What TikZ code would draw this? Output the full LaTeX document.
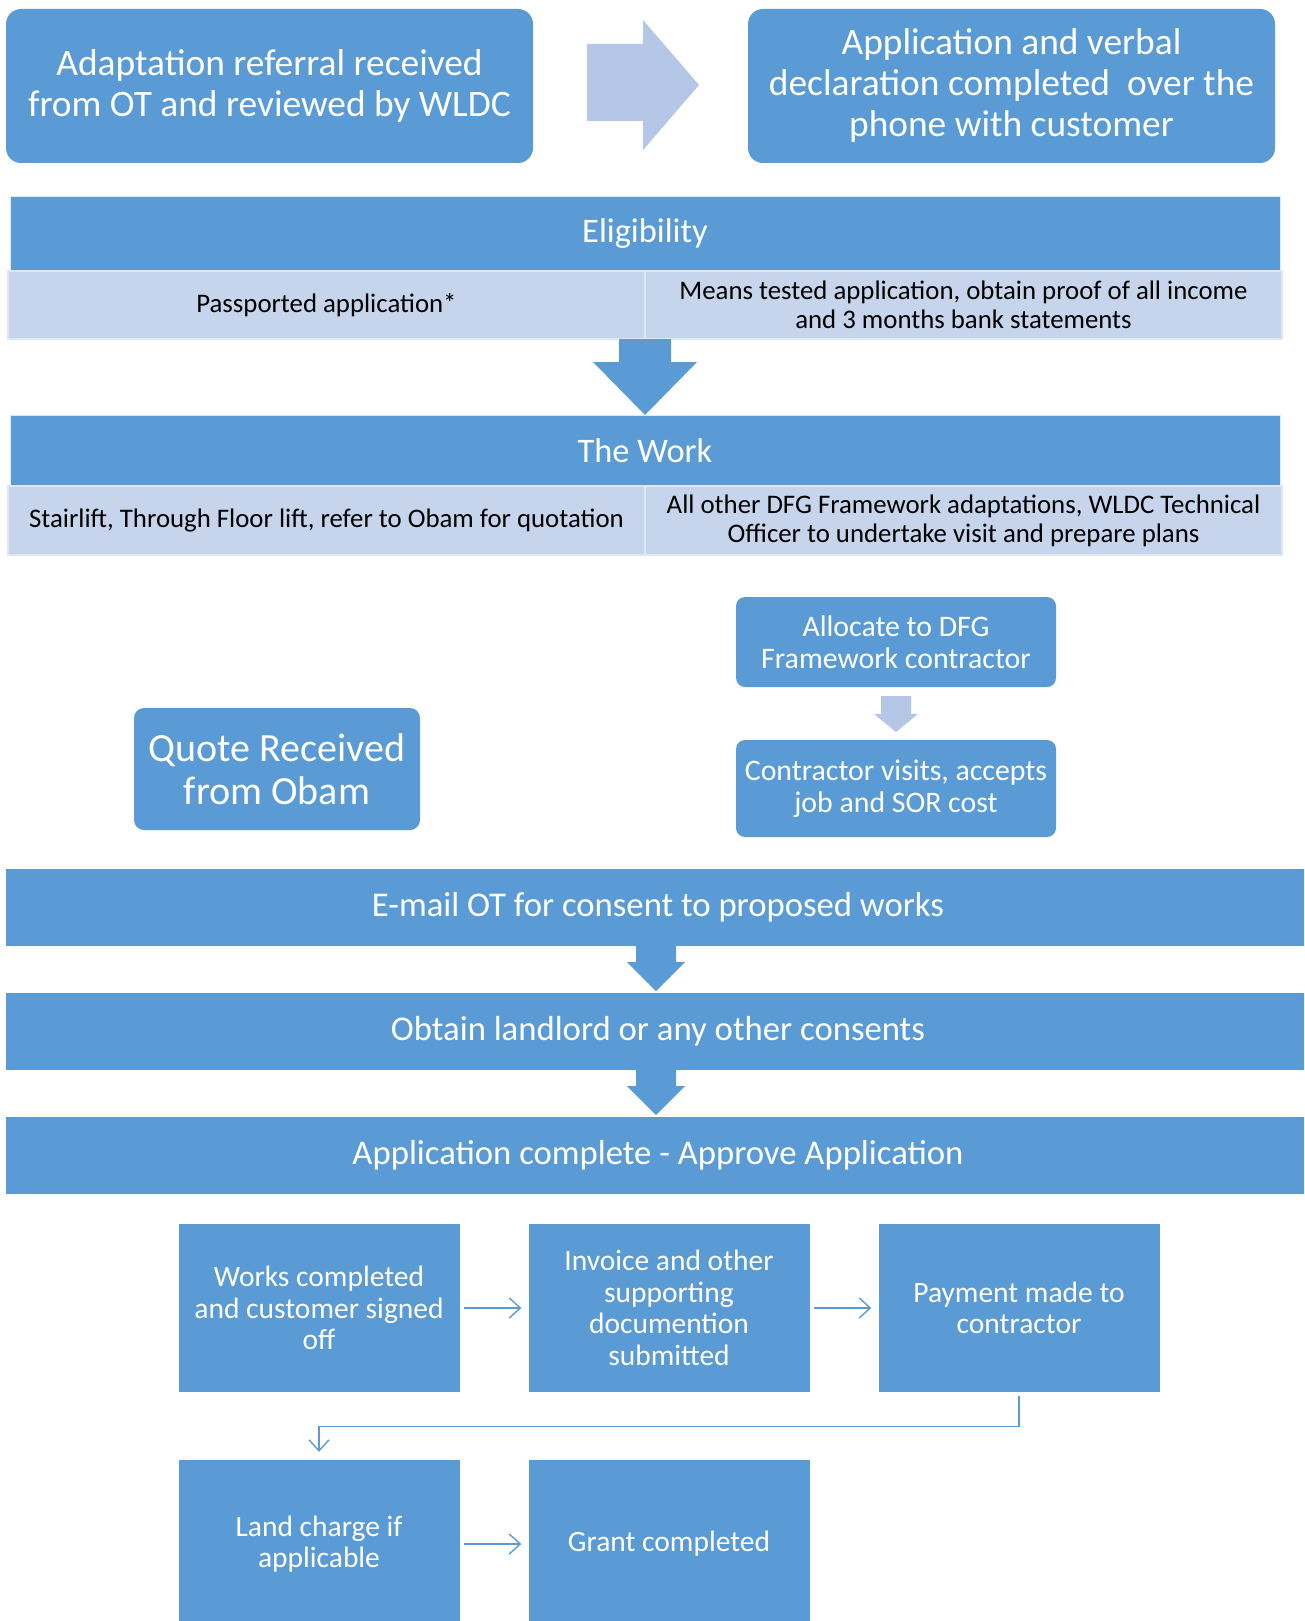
\documentclass[tikz,border=0pt]{standalone}
\usepackage{fontspec}
\setmainfont{Carlito}
\usetikzlibrary{arrows.meta,calc}
\definecolor{mblue}{RGB}{91,155,213}
\definecolor{lblue}{RGB}{198,213,235}
\definecolor{ablue}{RGB}{180,199,231}
\definecolor{edgec}{RGB}{222,231,244}
\definecolor{lineblue}{RGB}{91,155,213}
\begin{document}
\begin{tikzpicture}[x=1pt,y=-1pt,
  blk/.style={fill=mblue, text=white, inner sep=0pt, align=center},
  topbox/.style={blk, rounded corners=15pt, minimum width=527pt, minimum height=154pt, font=\fontsize{37.4}{41}\selectfont},
  bar/.style={blk, draw=edgec, line width=0.8pt, minimum width=1270pt, font=\fontsize{34.4}{38}\selectfont},
  cell/.style={fill=lblue, draw=edgec, line width=1.5pt, text=black, inner sep=0pt, align=center, minimum width=637pt, font=\fontsize{26.8}{29}\selectfont},
  smallbox/.style={blk, rounded corners=9pt, minimum width=320pt, font=\fontsize{29.8}{32}\selectfont},
  wide/.style={blk, minimum width=1304pt, minimum height=77pt, font=\fontsize{34.7}{38}\selectfont},
  sq/.style={blk, minimum width=281pt, minimum height=168pt, font=\fontsize{29.5}{31.5}\selectfont},
  conn/.style={draw=lineblue, line width=1.4pt, -{Straight Barb[length=11pt,width=20pt]}},
]
\useasboundingbox (0,0) rectangle (1304,1621);
\clip (0,0) rectangle (1304,1621);

% top row
\node[topbox] (ref) at (269.5,86) {Adaptation referral received\\from OT and reviewed by WLDC};
\node[topbox] (app) at (1011.5,86) {Application and verbal\\declaration completed\ \ over the\\phone with customer};
\fill[ablue] (587,44) -- (643,44) -- (643,20) -- (699,85) -- (643,150) -- (643,121) -- (587,121) -- cycle;

% eligibility
\node[bar, minimum height=75pt] (elig) at (645,233.5) {Eligibility};
\node[cell, minimum height=68pt] (pass) at (326.5,305) {Passported application*};
\node[cell, minimum height=68pt] (means) at (963.5,305) {Means tested application, obtain proof of all income\\and 3 months bank statements};

% arrow down
\fill[mblue] (619,339) -- (671,339) -- (671,362) -- (697,362) -- (645,415) -- (593,362) -- (619,362) -- cycle;

% the work
\node[bar, minimum height=71pt] (work) at (645,450.5) {The Work};
\node[cell, minimum height=69pt] (stair) at (326.5,520.5) {Stairlift, Through Floor lift, refer to Obam for quotation};
\node[cell, minimum height=69pt] (other) at (963.5,520.5) {All other DFG Framework adaptations, WLDC Technical\\Officer to undertake visit and prepare plans};

% right column
\node[smallbox, minimum height=90pt] (alloc) at (896,642) {Allocate to DFG\\Framework contractor};
\fill[ablue] (881,696) -- (911,696) -- (911,714) -- (918,714) -- (896,732) -- (874,714) -- (881,714) -- cycle;
\node[smallbox, minimum height=97pt] (contr) at (896,788.5) {Contractor visits, accepts\\job and SOR cost};

% quote
\node[blk, rounded corners=10pt, minimum width=286pt, minimum height=122pt, font=\fontsize{40}{43}\selectfont] (quote) at (277,769) {Quote Received\\from Obam};

% wide bars
\node[wide] (email) at (658,907.5) {E-mail OT for consent to proposed works};
\fill[mblue] (636,946) -- (676,946) -- (676,962) -- (685,962) -- (656,991) -- (627,962) -- (636,962) -- cycle;
\node[wide] (land) at (658,1031.5) {Obtain landlord or any other consents};
\fill[mblue] (636,1070) -- (676,1070) -- (676,1086) -- (685,1086) -- (656,1115) -- (627,1086) -- (636,1086) -- cycle;
\node[wide] (approve) at (658,1155.5) {Application complete - Approve Application};

% bottom process
\node[sq] (works) at (319,1308) {Works completed\\and customer signed\\off};
\node[sq] (inv) at (669,1308) {Invoice and other\\supporting\\documention\\submitted};
\node[sq] (pay) at (1019,1308) {Payment made to\\contractor};
\node[sq] (lcharge) at (319,1544) {Land charge if\\applicable};
\node[sq] (grant) at (669,1544) {Grant completed};

\draw[conn, shorten <=4pt, shorten >=7pt] (works.east) -- (inv.west);
\draw[conn, shorten <=4pt, shorten >=7pt] (inv.east) -- (pay.west);
\draw[conn, shorten <=4pt, shorten >=8pt] (pay.south) -- ++(0,34) -| (lcharge.north);
\draw[conn, shorten <=4pt, shorten >=7pt] (lcharge.east) -- (grant.west);
\end{tikzpicture}
\end{document}
